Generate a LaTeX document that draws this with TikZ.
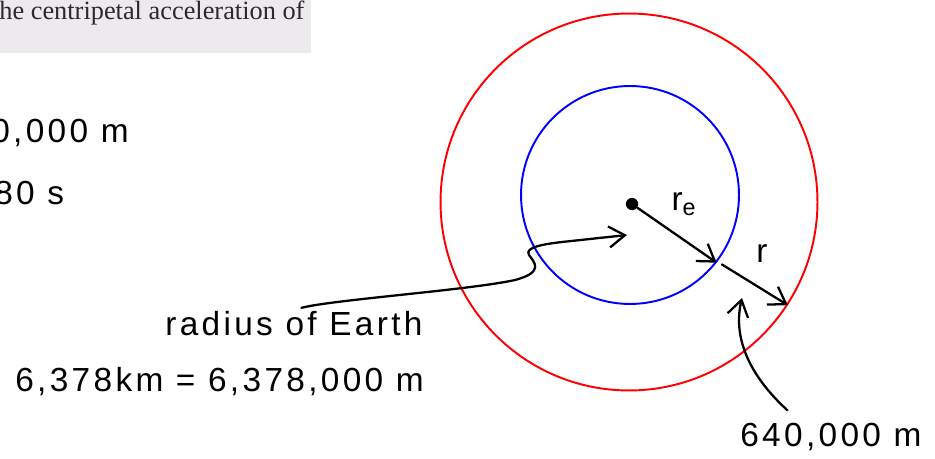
\documentclass[tikz,border=0pt]{standalone}
\usepackage{fontspec}
\setmainfont{Liberation Sans}
\newfontfamily\bookfont{Liberation Serif}
\newfontfamily\handfont[LetterSpace=10]{Liberation Sans}
\usetikzlibrary{positioning,arrows.meta}
\definecolor{scangray}{RGB}{236,234,236}
\definecolor{scanink}{RGB}{45,40,45}
\tikzset{
  penarrow/.style={-{Straight Barb[length=3.2mm, width=4.2mm, line width=1.3pt]}, line width=1.3pt, line cap=round},
  handtext/.style={font=\handfont\fontsize{19}{22}\selectfont, inner sep=0pt},
  ringearth/.style={circle, draw=blue, line width=1.1pt, minimum size=4.36cm, inner sep=0pt},
  ringorbit/.style={circle, draw=red, line width=1.1pt, minimum size=7.54cm, inner sep=0pt},
  scanbox/.style={fill=scangray, draw=none, minimum width=6.22cm, minimum height=1.06cm, inner sep=0pt}
}

\begin{document}
\begin{tikzpicture}[x=0.02cm, y=-0.02cm, >=Latex]
      \useasboundingbox (0,0) rectangle (935,459);
      % scanned snippet of the book
      \node[scanbox, anchor=north west] (scan) at (0,0) {};
      \node[font=\bookfont\fontsize{15}{18}\selectfont, text=scanink, anchor=west, inner sep=0pt] (booktxt) at (-1,13) {he centripetal acceleration of};
      % notes on the left
      \node[handtext, anchor=west] (dist) at (-9,133) {0,000 m};
      \node[handtext, anchor=west] (period) at (-6,193) {80 s};
      \node[handtext, anchor=west] (earthlbl) at (165,324) {radius of Earth};
      \node[handtext, anchor=west] (earthval) at (15,382) {6,378km = 6,378,000 m};
      \node[handtext, anchor=west] (heightval) at (740,437) {640,000 m};
      % the two circles
      \node[ringorbit] (orbit) at (629,202) {};
      \node[ringearth] (earth) at (630,195) {};
      \node[circle, fill=black, inner sep=0pt, minimum size=7pt] (earthc) at (632,204) {};
      \draw[penarrow] (earthc) -- (earth.-38);
      \draw[penarrow] ([xshift=3pt,yshift=-1pt]earth.-38) -- (orbit.-33);
      \node[handtext] (relbl) at (684,204) {r\textsubscript{e}};
      \node[handtext] (rlbl) at (762,254) {r};
      % pointers
      \coordinate (tipE) at (627,235);
      \draw[penarrow] ([xshift=0.15cm,yshift=2pt]earthlbl.north) .. controls (330,300) and (470,290) .. (515,280)
        .. controls (545,272) and (534,262) .. (529,255) .. controls (524,247) and (545,244) .. (562,242) -- (tipE);
      \draw[penarrow] ([xshift=0.95cm,yshift=0.25cm]heightval.north west) .. controls (752,378) and (732,340) .. (742,298);
    \end{tikzpicture}
\end{document}
